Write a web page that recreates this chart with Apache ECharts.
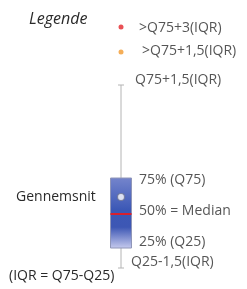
<!DOCTYPE html>
<html><head><meta charset="utf-8">
<script src="https://cdn.jsdelivr.net/npm/echarts@6/dist/echarts.min.js"></script>
<style>html,body{margin:0;padding:0;background:#fff}#c{width:247px;height:289px}</style>
</head><body><div id="c"></div>
<script>
// Illustrative box (values in arbitrary chart units)
const categories = ['Legende'];
const boxStats = [[21, 41, 75, 111, 204]]; // lowerWhisker, Q25, median, Q75, upperWhisker
const meanValue = [92];
const outlierRed = [262];
const outlierOrange = [237];
const labelTexts = ['>Q75+3(IQR)', '>Q75+1,5(IQR)', 'Q75+1,5(IQR)', '75% (Q75)', '50% = Median', '25% (Q25)', 'Q25-1,5(IQR)'];
const labelValues = [262, 237, 204, 111, 75, 41, 21];

const labelOffsets = [[18, 1], [21, -1], [14, -5], [18, 2], [18, -3], [18, -6], [10, -6]];
const FONT = '"Open Sans", Lato, sans-serif';
const chart = echarts.init(document.getElementById('c'), null, {renderer: 'canvas'});

function renderBox(params, api) {
  const lw = api.value(1), q1 = api.value(2), med = api.value(3), q3 = api.value(4), uw = api.value(5);
  const pUw = api.coord([api.value(0), uw]);
  const pQ3 = api.coord([api.value(0), q3]);
  const pMed = api.coord([api.value(0), med]);
  const pQ1 = api.coord([api.value(0), q1]);
  const pLw = api.coord([api.value(0), lw]);
  const cx = pUw[0];
  const bw = 21, cw = 6;
  const grey = '#b4b4b4';
  return {
    type: 'group',
    children: [
      {type: 'line', shape: {x1: cx, y1: pUw[1], x2: cx, y2: pQ3[1]}, style: {stroke: grey, lineWidth: 1}},
      {type: 'line', shape: {x1: cx - cw / 2, y1: pUw[1], x2: cx + cw / 2, y2: pUw[1]}, style: {stroke: grey, lineWidth: 1}},
      {type: 'line', shape: {x1: cx, y1: pQ1[1], x2: cx, y2: pLw[1]}, style: {stroke: grey, lineWidth: 1}},
      {type: 'line', shape: {x1: cx - cw / 2, y1: pLw[1], x2: cx + cw / 2, y2: pLw[1]}, style: {stroke: grey, lineWidth: 1}},
      {type: 'rect', shape: {x: cx - bw / 2, y: pQ3[1], width: bw, height: pQ1[1] - pQ3[1]},
        style: {
          fill: new echarts.graphic.LinearGradient(0, 0, 0, 1, [
            {offset: 0, color: '#7585cc'},
            {offset: 0.45, color: '#3c58b6'},
            {offset: 0.7, color: '#3d57b4'},
            {offset: 1, color: '#c7cbee'}
          ]),
          stroke: '#9096b8', lineWidth: 1
        }},
      {type: 'line', shape: {x1: cx - bw / 2, y1: pMed[1], x2: cx + bw / 2, y2: pMed[1]}, style: {stroke: '#d8202e', lineWidth: 2}}
    ]
  };
}

chart.setOption({
  animation: false,
  grid: {left: 0, width: 242, top: 0, bottom: 0},
  xAxis: {type: 'category', data: categories, show: false},
  yAxis: {type: 'value', min: 0, max: 289, show: false},
  series: [
    {type: 'custom', renderItem: renderBox, data: boxStats.map((b, i) => [i].concat(b)), encode: {x: 0, y: [1, 2, 3, 4, 5]}, z: 2},
    {type: 'scatter', data: meanValue.map((v, i) => [i, v]), symbol: 'circle', symbolSize: 7,
      itemStyle: {color: '#ffffff', borderColor: '#6f7594', borderWidth: 1.2}, z: 3},
    {type: 'scatter', data: outlierRed.map(v => [0, v]), symbol: 'circle', symbolSize: 5, itemStyle: {color: '#e3262b'}, z: 3},
    {type: 'scatter', data: outlierOrange.map(v => [0, v]), symbol: 'circle', symbolSize: 5, itemStyle: {color: '#f29a2e'}, z: 3},
    {type: 'scatter', symbolSize: 0, z: 4,
      data: labelValues.map((v, i) => ({
        value: [0, v],
        label: {show: true, position: 'right', formatter: labelTexts[i], offset: labelOffsets[i],
          distance: 0, color: '#2a2a2a', fontSize: 14, fontFamily: FONT}
      }))}
  ],
  graphic: [
    {type: 'text', left: 29, top: 11, style: {text: 'Legende', font: 'italic 16px ' + FONT, fill: '#2a2a2a'}},
    {type: 'text', left: 16, top: 190, style: {text: 'Gennemsnit', font: '14px ' + FONT, fill: '#2a2a2a'}},
    {type: 'text', left: 9, top: 269, style: {text: '(IQR = Q75-Q25)', font: '14px ' + FONT, fill: '#2a2a2a'}}
  ]
});
</script></body></html>
